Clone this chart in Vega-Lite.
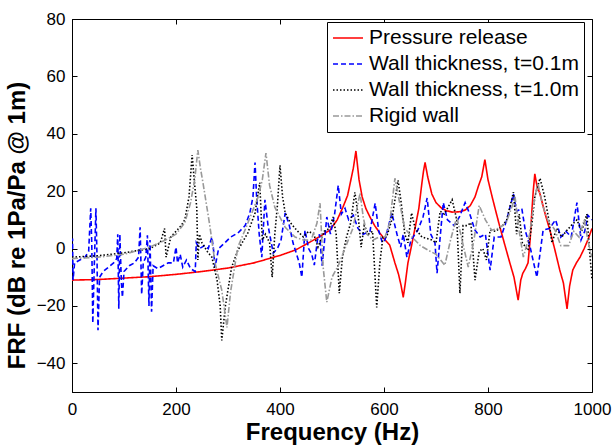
{
"$schema": "https://vega.github.io/schema/vega-lite/v6.json",
"width": 520, "height": 373,
"autosize": "none",
"padding": {"left": 72, "top": 19, "right": 24, "bottom": 56},
"background": "white",
"config": {
 "view": {"stroke": "black", "strokeWidth": 1},
 "axis": {"grid": false, "domainColor": "black", "tickColor": "black", "labelColor": "black", "titleColor": "black",
  "labelFont": "Liberation Sans", "labelFontSize": 17, "titleFont": "Liberation Sans", "titleFontSize": 24, "titleFontWeight": "bold",
  "tickSize": -5, "tickWidth": 1, "domainWidth": 1},
 "legend": {"labelFont": "Liberation Sans", "labelFontSize": 21, "labelColor": "black", "labelLimit": 0}
},
"data": {"values": [
{"series":"Pressure release","freq":0,"frf":-11},{"series":"Pressure release","freq":50,"frf":-10.8},{"series":"Pressure release","freq":100,"frf":-10.3},{"series":"Pressure release","freq":150,"frf":-9.8},{"series":"Pressure release","freq":200,"frf":-9},{"series":"Pressure release","freq":250,"frf":-8},{"series":"Pressure release","freq":300,"frf":-6.8},{"series":"Pressure release","freq":350,"frf":-5},{"series":"Pressure release","freq":400,"frf":-2.4},{"series":"Pressure release","freq":430,"frf":-0.5},{"series":"Pressure release","freq":450,"frf":1.5},{"series":"Pressure release","freq":470,"frf":3.5},{"series":"Pressure release","freq":496,"frf":6.4},{"series":"Pressure release","freq":510,"frf":10},{"series":"Pressure release","freq":521,"frf":14.4},{"series":"Pressure release","freq":530,"frf":18.5},{"series":"Pressure release","freq":535,"frf":22.8},{"series":"Pressure release","freq":541,"frf":28},{"series":"Pressure release","freq":546,"frf":34},{"series":"Pressure release","freq":552,"frf":24},{"series":"Pressure release","freq":558,"frf":18},{"series":"Pressure release","freq":565,"frf":14},{"series":"Pressure release","freq":573,"frf":11},{"series":"Pressure release","freq":582,"frf":8},{"series":"Pressure release","freq":592,"frf":5.4},{"series":"Pressure release","freq":602,"frf":3},{"series":"Pressure release","freq":611,"frf":1.2},{"series":"Pressure release","freq":621,"frf":-5},{"series":"Pressure release","freq":628,"frf":-9},{"series":"Pressure release","freq":633,"frf":-13},{"series":"Pressure release","freq":637,"frf":-17},{"series":"Pressure release","freq":641,"frf":-12},{"series":"Pressure release","freq":646,"frf":-5},{"series":"Pressure release","freq":653,"frf":1},{"series":"Pressure release","freq":660,"frf":7.4},{"series":"Pressure release","freq":667,"frf":14},{"series":"Pressure release","freq":673,"frf":23},{"series":"Pressure release","freq":676,"frf":27},{"series":"Pressure release","freq":679,"frf":30},{"series":"Pressure release","freq":684,"frf":25},{"series":"Pressure release","freq":692,"frf":19},{"series":"Pressure release","freq":700,"frf":16},{"series":"Pressure release","freq":711,"frf":14},{"series":"Pressure release","freq":720,"frf":13.2},{"series":"Pressure release","freq":731,"frf":12.7},{"series":"Pressure release","freq":745,"frf":12.8},{"series":"Pressure release","freq":756,"frf":13.4},{"series":"Pressure release","freq":766,"frf":15},{"series":"Pressure release","freq":775,"frf":18},{"series":"Pressure release","freq":782,"frf":22},{"series":"Pressure release","freq":788,"frf":25},{"series":"Pressure release","freq":794,"frf":31},{"series":"Pressure release","freq":800,"frf":24},{"series":"Pressure release","freq":808,"frf":18},{"series":"Pressure release","freq":815,"frf":13},{"series":"Pressure release","freq":823,"frf":7.4},{"series":"Pressure release","freq":832,"frf":1.5},{"series":"Pressure release","freq":842,"frf":-5},{"series":"Pressure release","freq":850,"frf":-10},{"series":"Pressure release","freq":858,"frf":-18},{"series":"Pressure release","freq":863,"frf":-11},{"series":"Pressure release","freq":867,"frf":-8.6},{"series":"Pressure release","freq":872,"frf":-7},{"series":"Pressure release","freq":877,"frf":-5},{"series":"Pressure release","freq":881,"frf":3},{"series":"Pressure release","freq":884,"frf":12},{"series":"Pressure release","freq":887,"frf":20},{"series":"Pressure release","freq":890,"frf":26},{"series":"Pressure release","freq":894,"frf":22},{"series":"Pressure release","freq":900,"frf":19},{"series":"Pressure release","freq":910,"frf":12},{"series":"Pressure release","freq":919,"frf":6.4},{"series":"Pressure release","freq":928,"frf":0},{"series":"Pressure release","freq":938,"frf":-7.5},{"series":"Pressure release","freq":945,"frf":-12},{"series":"Pressure release","freq":952,"frf":-21},{"series":"Pressure release","freq":957,"frf":-13},{"series":"Pressure release","freq":963,"frf":-7.5},{"series":"Pressure release","freq":970,"frf":-5},{"series":"Pressure release","freq":977,"frf":-3},{"series":"Pressure release","freq":985,"frf":0},{"series":"Pressure release","freq":992,"frf":3},{"series":"Pressure release","freq":1000,"frf":7},
{"series":"Wall thickness, t=0.1m","freq":0,"frf":-3},{"series":"Wall thickness, t=0.1m","freq":1,"frf":3.5},{"series":"Wall thickness, t=0.1m","freq":2,"frf":-11},{"series":"Wall thickness, t=0.1m","freq":5,"frf":-5},{"series":"Wall thickness, t=0.1m","freq":15,"frf":-4},{"series":"Wall thickness, t=0.1m","freq":25,"frf":-3},{"series":"Wall thickness, t=0.1m","freq":32,"frf":-1},{"series":"Wall thickness, t=0.1m","freq":36,"frf":14},{"series":"Wall thickness, t=0.1m","freq":38,"frf":2},{"series":"Wall thickness, t=0.1m","freq":40,"frf":-26},{"series":"Wall thickness, t=0.1m","freq":43,"frf":-5},{"series":"Wall thickness, t=0.1m","freq":46,"frf":14},{"series":"Wall thickness, t=0.1m","freq":48,"frf":-2},{"series":"Wall thickness, t=0.1m","freq":50,"frf":-28.5},{"series":"Wall thickness, t=0.1m","freq":53,"frf":-10},{"series":"Wall thickness, t=0.1m","freq":60,"frf":-8},{"series":"Wall thickness, t=0.1m","freq":70,"frf":-6.5},{"series":"Wall thickness, t=0.1m","freq":80,"frf":-5},{"series":"Wall thickness, t=0.1m","freq":86,"frf":-3.5},{"series":"Wall thickness, t=0.1m","freq":88,"frf":5},{"series":"Wall thickness, t=0.1m","freq":90,"frf":-21},{"series":"Wall thickness, t=0.1m","freq":92,"frf":5},{"series":"Wall thickness, t=0.1m","freq":95,"frf":-12},{"series":"Wall thickness, t=0.1m","freq":97,"frf":-17},{"series":"Wall thickness, t=0.1m","freq":100,"frf":-8},{"series":"Wall thickness, t=0.1m","freq":110,"frf":-6},{"series":"Wall thickness, t=0.1m","freq":120,"frf":-5},{"series":"Wall thickness, t=0.1m","freq":128,"frf":-3},{"series":"Wall thickness, t=0.1m","freq":131,"frf":7.4},{"series":"Wall thickness, t=0.1m","freq":134,"frf":-16},{"series":"Wall thickness, t=0.1m","freq":137,"frf":-5},{"series":"Wall thickness, t=0.1m","freq":142,"frf":-3},{"series":"Wall thickness, t=0.1m","freq":145,"frf":4.6},{"series":"Wall thickness, t=0.1m","freq":148,"frf":-20},{"series":"Wall thickness, t=0.1m","freq":150,"frf":3},{"series":"Wall thickness, t=0.1m","freq":153,"frf":-22},{"series":"Wall thickness, t=0.1m","freq":156,"frf":-6},{"series":"Wall thickness, t=0.1m","freq":165,"frf":-7},{"series":"Wall thickness, t=0.1m","freq":175,"frf":-6},{"series":"Wall thickness, t=0.1m","freq":185,"frf":-5},{"series":"Wall thickness, t=0.1m","freq":195,"frf":-5},{"series":"Wall thickness, t=0.1m","freq":200,"frf":0.5},{"series":"Wall thickness, t=0.1m","freq":203,"frf":-5},{"series":"Wall thickness, t=0.1m","freq":208,"frf":-2},{"series":"Wall thickness, t=0.1m","freq":213,"frf":-6.5},{"series":"Wall thickness, t=0.1m","freq":220,"frf":-4},{"series":"Wall thickness, t=0.1m","freq":228,"frf":-7},{"series":"Wall thickness, t=0.1m","freq":237,"frf":-8},{"series":"Wall thickness, t=0.1m","freq":239,"frf":2},{"series":"Wall thickness, t=0.1m","freq":245,"frf":0},{"series":"Wall thickness, t=0.1m","freq":255,"frf":1},{"series":"Wall thickness, t=0.1m","freq":262,"frf":0},{"series":"Wall thickness, t=0.1m","freq":269,"frf":4},{"series":"Wall thickness, t=0.1m","freq":272,"frf":0},{"series":"Wall thickness, t=0.1m","freq":275,"frf":-6.5},{"series":"Wall thickness, t=0.1m","freq":282,"frf":0},{"series":"Wall thickness, t=0.1m","freq":294,"frf":2},{"series":"Wall thickness, t=0.1m","freq":305,"frf":4},{"series":"Wall thickness, t=0.1m","freq":319,"frf":5.4},{"series":"Wall thickness, t=0.1m","freq":333,"frf":8},{"series":"Wall thickness, t=0.1m","freq":342,"frf":12.4},{"series":"Wall thickness, t=0.1m","freq":348,"frf":18},{"series":"Wall thickness, t=0.1m","freq":352,"frf":30},{"series":"Wall thickness, t=0.1m","freq":355,"frf":18},{"series":"Wall thickness, t=0.1m","freq":360,"frf":5},{"series":"Wall thickness, t=0.1m","freq":365,"frf":-3},{"series":"Wall thickness, t=0.1m","freq":371,"frf":17},{"series":"Wall thickness, t=0.1m","freq":377,"frf":8},{"series":"Wall thickness, t=0.1m","freq":387,"frf":-1.6},{"series":"Wall thickness, t=0.1m","freq":395,"frf":0},{"series":"Wall thickness, t=0.1m","freq":402,"frf":3},{"series":"Wall thickness, t=0.1m","freq":410,"frf":12.4},{"series":"Wall thickness, t=0.1m","freq":418,"frf":8},{"series":"Wall thickness, t=0.1m","freq":425,"frf":2},{"series":"Wall thickness, t=0.1m","freq":432,"frf":-2},{"series":"Wall thickness, t=0.1m","freq":437,"frf":-5},{"series":"Wall thickness, t=0.1m","freq":442,"frf":-10},{"series":"Wall thickness, t=0.1m","freq":448,"frf":6.4},{"series":"Wall thickness, t=0.1m","freq":455,"frf":0},{"series":"Wall thickness, t=0.1m","freq":461,"frf":-2},{"series":"Wall thickness, t=0.1m","freq":466,"frf":-5.8},{"series":"Wall thickness, t=0.1m","freq":472,"frf":3},{"series":"Wall thickness, t=0.1m","freq":476,"frf":5},{"series":"Wall thickness, t=0.1m","freq":481,"frf":-6},{"series":"Wall thickness, t=0.1m","freq":490,"frf":11},{"series":"Wall thickness, t=0.1m","freq":497,"frf":5},{"series":"Wall thickness, t=0.1m","freq":505,"frf":12},{"series":"Wall thickness, t=0.1m","freq":512,"frf":22},{"series":"Wall thickness, t=0.1m","freq":518,"frf":12},{"series":"Wall thickness, t=0.1m","freq":525,"frf":14},{"series":"Wall thickness, t=0.1m","freq":532,"frf":10},{"series":"Wall thickness, t=0.1m","freq":541,"frf":11.6},{"series":"Wall thickness, t=0.1m","freq":550,"frf":7},{"series":"Wall thickness, t=0.1m","freq":560,"frf":5},{"series":"Wall thickness, t=0.1m","freq":573,"frf":6},{"series":"Wall thickness, t=0.1m","freq":583,"frf":15.8},{"series":"Wall thickness, t=0.1m","freq":590,"frf":6},{"series":"Wall thickness, t=0.1m","freq":597,"frf":2},{"series":"Wall thickness, t=0.1m","freq":602,"frf":3},{"series":"Wall thickness, t=0.1m","freq":615,"frf":12.4},{"series":"Wall thickness, t=0.1m","freq":625,"frf":5},{"series":"Wall thickness, t=0.1m","freq":632,"frf":0.5},{"series":"Wall thickness, t=0.1m","freq":637,"frf":5},{"series":"Wall thickness, t=0.1m","freq":644,"frf":-3},{"series":"Wall thickness, t=0.1m","freq":652,"frf":3},{"series":"Wall thickness, t=0.1m","freq":665,"frf":6.4},{"series":"Wall thickness, t=0.1m","freq":675,"frf":11},{"series":"Wall thickness, t=0.1m","freq":683,"frf":17.6},{"series":"Wall thickness, t=0.1m","freq":690,"frf":5},{"series":"Wall thickness, t=0.1m","freq":698,"frf":2},{"series":"Wall thickness, t=0.1m","freq":702,"frf":-8.6},{"series":"Wall thickness, t=0.1m","freq":708,"frf":4},{"series":"Wall thickness, t=0.1m","freq":714,"frf":16},{"series":"Wall thickness, t=0.1m","freq":722,"frf":10},{"series":"Wall thickness, t=0.1m","freq":735,"frf":8},{"series":"Wall thickness, t=0.1m","freq":745,"frf":11},{"series":"Wall thickness, t=0.1m","freq":756,"frf":16},{"series":"Wall thickness, t=0.1m","freq":765,"frf":12},{"series":"Wall thickness, t=0.1m","freq":775,"frf":6.4},{"series":"Wall thickness, t=0.1m","freq":785,"frf":4},{"series":"Wall thickness, t=0.1m","freq":795,"frf":5},{"series":"Wall thickness, t=0.1m","freq":804,"frf":-7.5},{"series":"Wall thickness, t=0.1m","freq":812,"frf":4},{"series":"Wall thickness, t=0.1m","freq":825,"frf":4},{"series":"Wall thickness, t=0.1m","freq":836,"frf":10},{"series":"Wall thickness, t=0.1m","freq":849,"frf":19},{"series":"Wall thickness, t=0.1m","freq":855,"frf":13},{"series":"Wall thickness, t=0.1m","freq":865,"frf":14},{"series":"Wall thickness, t=0.1m","freq":872,"frf":6},{"series":"Wall thickness, t=0.1m","freq":881,"frf":0.5},{"series":"Wall thickness, t=0.1m","freq":894,"frf":-10},{"series":"Wall thickness, t=0.1m","freq":906,"frf":6.4},{"series":"Wall thickness, t=0.1m","freq":918,"frf":7},{"series":"Wall thickness, t=0.1m","freq":930,"frf":10},{"series":"Wall thickness, t=0.1m","freq":940,"frf":4},{"series":"Wall thickness, t=0.1m","freq":950,"frf":6},{"series":"Wall thickness, t=0.1m","freq":960,"frf":4},{"series":"Wall thickness, t=0.1m","freq":971,"frf":16},{"series":"Wall thickness, t=0.1m","freq":979,"frf":3},{"series":"Wall thickness, t=0.1m","freq":986,"frf":6},{"series":"Wall thickness, t=0.1m","freq":992,"frf":11.6},{"series":"Wall thickness, t=0.1m","freq":1000,"frf":10},
{"series":"Wall thickness, t=1.0m","freq":0,"frf":-3},{"series":"Wall thickness, t=1.0m","freq":50,"frf":-2.5},{"series":"Wall thickness, t=1.0m","freq":100,"frf":-1.5},{"series":"Wall thickness, t=1.0m","freq":150,"frf":0},{"series":"Wall thickness, t=1.0m","freq":170,"frf":2},{"series":"Wall thickness, t=1.0m","freq":178,"frf":7},{"series":"Wall thickness, t=1.0m","freq":181,"frf":-3},{"series":"Wall thickness, t=1.0m","freq":190,"frf":4},{"series":"Wall thickness, t=1.0m","freq":200,"frf":6},{"series":"Wall thickness, t=1.0m","freq":210,"frf":8},{"series":"Wall thickness, t=1.0m","freq":217,"frf":10},{"series":"Wall thickness, t=1.0m","freq":225,"frf":18},{"series":"Wall thickness, t=1.0m","freq":231,"frf":32.6},{"series":"Wall thickness, t=1.0m","freq":236,"frf":22},{"series":"Wall thickness, t=1.0m","freq":240,"frf":14},{"series":"Wall thickness, t=1.0m","freq":242,"frf":-4},{"series":"Wall thickness, t=1.0m","freq":245,"frf":5},{"series":"Wall thickness, t=1.0m","freq":250,"frf":2},{"series":"Wall thickness, t=1.0m","freq":260,"frf":-1},{"series":"Wall thickness, t=1.0m","freq":269,"frf":-3},{"series":"Wall thickness, t=1.0m","freq":279,"frf":-11},{"series":"Wall thickness, t=1.0m","freq":285,"frf":-20},{"series":"Wall thickness, t=1.0m","freq":288,"frf":-32},{"series":"Wall thickness, t=1.0m","freq":295,"frf":-20},{"series":"Wall thickness, t=1.0m","freq":307,"frf":-6.5},{"series":"Wall thickness, t=1.0m","freq":319,"frf":-0.6},{"series":"Wall thickness, t=1.0m","freq":338,"frf":5.4},{"series":"Wall thickness, t=1.0m","freq":352,"frf":12.4},{"series":"Wall thickness, t=1.0m","freq":361,"frf":23},{"series":"Wall thickness, t=1.0m","freq":366,"frf":3},{"series":"Wall thickness, t=1.0m","freq":372,"frf":5},{"series":"Wall thickness, t=1.0m","freq":380,"frf":2},{"series":"Wall thickness, t=1.0m","freq":385,"frf":-10},{"series":"Wall thickness, t=1.0m","freq":390,"frf":5},{"series":"Wall thickness, t=1.0m","freq":395,"frf":15},{"series":"Wall thickness, t=1.0m","freq":400,"frf":29},{"series":"Wall thickness, t=1.0m","freq":405,"frf":18},{"series":"Wall thickness, t=1.0m","freq":410,"frf":12.4},{"series":"Wall thickness, t=1.0m","freq":420,"frf":9},{"series":"Wall thickness, t=1.0m","freq":432,"frf":6.4},{"series":"Wall thickness, t=1.0m","freq":445,"frf":4},{"series":"Wall thickness, t=1.0m","freq":455,"frf":6},{"series":"Wall thickness, t=1.0m","freq":465,"frf":5},{"series":"Wall thickness, t=1.0m","freq":473,"frf":0.5},{"series":"Wall thickness, t=1.0m","freq":485,"frf":6},{"series":"Wall thickness, t=1.0m","freq":495,"frf":7},{"series":"Wall thickness, t=1.0m","freq":502,"frf":11},{"series":"Wall thickness, t=1.0m","freq":508,"frf":5},{"series":"Wall thickness, t=1.0m","freq":514,"frf":-15.6},{"series":"Wall thickness, t=1.0m","freq":520,"frf":-3},{"series":"Wall thickness, t=1.0m","freq":528,"frf":4},{"series":"Wall thickness, t=1.0m","freq":536,"frf":9},{"series":"Wall thickness, t=1.0m","freq":544,"frf":19.6},{"series":"Wall thickness, t=1.0m","freq":550,"frf":12},{"series":"Wall thickness, t=1.0m","freq":556,"frf":0.5},{"series":"Wall thickness, t=1.0m","freq":562,"frf":8},{"series":"Wall thickness, t=1.0m","freq":570,"frf":5},{"series":"Wall thickness, t=1.0m","freq":578,"frf":6},{"series":"Wall thickness, t=1.0m","freq":586,"frf":-20.5},{"series":"Wall thickness, t=1.0m","freq":592,"frf":-5},{"series":"Wall thickness, t=1.0m","freq":598,"frf":4},{"series":"Wall thickness, t=1.0m","freq":605,"frf":4},{"series":"Wall thickness, t=1.0m","freq":615,"frf":10},{"series":"Wall thickness, t=1.0m","freq":627,"frf":23.8},{"series":"Wall thickness, t=1.0m","freq":633,"frf":16},{"series":"Wall thickness, t=1.0m","freq":640,"frf":5},{"series":"Wall thickness, t=1.0m","freq":646,"frf":2},{"series":"Wall thickness, t=1.0m","freq":653,"frf":12.4},{"series":"Wall thickness, t=1.0m","freq":660,"frf":7},{"series":"Wall thickness, t=1.0m","freq":673,"frf":4},{"series":"Wall thickness, t=1.0m","freq":692,"frf":3},{"series":"Wall thickness, t=1.0m","freq":700,"frf":2},{"series":"Wall thickness, t=1.0m","freq":708,"frf":13},{"series":"Wall thickness, t=1.0m","freq":716,"frf":12},{"series":"Wall thickness, t=1.0m","freq":731,"frf":17},{"series":"Wall thickness, t=1.0m","freq":740,"frf":10},{"series":"Wall thickness, t=1.0m","freq":746,"frf":-15.6},{"series":"Wall thickness, t=1.0m","freq":752,"frf":8},{"series":"Wall thickness, t=1.0m","freq":760,"frf":8},{"series":"Wall thickness, t=1.0m","freq":767,"frf":9},{"series":"Wall thickness, t=1.0m","freq":775,"frf":-11},{"series":"Wall thickness, t=1.0m","freq":783,"frf":-1},{"series":"Wall thickness, t=1.0m","freq":790,"frf":0},{"series":"Wall thickness, t=1.0m","freq":797,"frf":-4},{"series":"Wall thickness, t=1.0m","freq":804,"frf":6.4},{"series":"Wall thickness, t=1.0m","freq":815,"frf":6},{"series":"Wall thickness, t=1.0m","freq":828,"frf":8},{"series":"Wall thickness, t=1.0m","freq":836,"frf":10},{"series":"Wall thickness, t=1.0m","freq":849,"frf":19.6},{"series":"Wall thickness, t=1.0m","freq":855,"frf":5},{"series":"Wall thickness, t=1.0m","freq":860,"frf":12},{"series":"Wall thickness, t=1.0m","freq":866,"frf":2},{"series":"Wall thickness, t=1.0m","freq":877,"frf":-0.6},{"series":"Wall thickness, t=1.0m","freq":884,"frf":8},{"series":"Wall thickness, t=1.0m","freq":890,"frf":18},{"series":"Wall thickness, t=1.0m","freq":900,"frf":24.5},{"series":"Wall thickness, t=1.0m","freq":909,"frf":18},{"series":"Wall thickness, t=1.0m","freq":916,"frf":11},{"series":"Wall thickness, t=1.0m","freq":923,"frf":2},{"series":"Wall thickness, t=1.0m","freq":932,"frf":7},{"series":"Wall thickness, t=1.0m","freq":942,"frf":4},{"series":"Wall thickness, t=1.0m","freq":950,"frf":6},{"series":"Wall thickness, t=1.0m","freq":960,"frf":8},{"series":"Wall thickness, t=1.0m","freq":971,"frf":10},{"series":"Wall thickness, t=1.0m","freq":980,"frf":6},{"series":"Wall thickness, t=1.0m","freq":990,"frf":12},{"series":"Wall thickness, t=1.0m","freq":995,"frf":0},{"series":"Wall thickness, t=1.0m","freq":1000,"frf":-11},
{"series":"Rigid wall","freq":0,"frf":-3.5},{"series":"Rigid wall","freq":50,"frf":-3},{"series":"Rigid wall","freq":100,"frf":-2},{"series":"Rigid wall","freq":150,"frf":0.5},{"series":"Rigid wall","freq":180,"frf":3},{"series":"Rigid wall","freq":200,"frf":5},{"series":"Rigid wall","freq":217,"frf":9},{"series":"Rigid wall","freq":228,"frf":16},{"series":"Rigid wall","freq":236,"frf":24},{"series":"Rigid wall","freq":242,"frf":34.3},{"series":"Rigid wall","freq":247,"frf":28},{"series":"Rigid wall","freq":252,"frf":22.8},{"series":"Rigid wall","freq":265,"frf":8},{"series":"Rigid wall","freq":275,"frf":-5},{"series":"Rigid wall","freq":288,"frf":-14.5},{"series":"Rigid wall","freq":298,"frf":-27.5},{"series":"Rigid wall","freq":305,"frf":-15},{"series":"Rigid wall","freq":319,"frf":0.5},{"series":"Rigid wall","freq":338,"frf":8.8},{"series":"Rigid wall","freq":358,"frf":18},{"series":"Rigid wall","freq":366,"frf":24},{"series":"Rigid wall","freq":373,"frf":33.3},{"series":"Rigid wall","freq":380,"frf":22},{"series":"Rigid wall","freq":390,"frf":14.4},{"series":"Rigid wall","freq":410,"frf":7.4},{"series":"Rigid wall","freq":429,"frf":4},{"series":"Rigid wall","freq":445,"frf":3},{"series":"Rigid wall","freq":460,"frf":3},{"series":"Rigid wall","freq":471,"frf":8.8},{"series":"Rigid wall","freq":477,"frf":15.8},{"series":"Rigid wall","freq":483,"frf":-6.5},{"series":"Rigid wall","freq":490,"frf":-18.7},{"series":"Rigid wall","freq":500,"frf":-10},{"series":"Rigid wall","freq":512,"frf":-6},{"series":"Rigid wall","freq":525,"frf":0},{"series":"Rigid wall","freq":540,"frf":7},{"series":"Rigid wall","freq":554,"frf":19.3},{"series":"Rigid wall","freq":560,"frf":11},{"series":"Rigid wall","freq":567,"frf":5},{"series":"Rigid wall","freq":579,"frf":3},{"series":"Rigid wall","freq":590,"frf":4},{"series":"Rigid wall","freq":602,"frf":4},{"series":"Rigid wall","freq":611,"frf":9},{"series":"Rigid wall","freq":621,"frf":24.5},{"series":"Rigid wall","freq":630,"frf":16},{"series":"Rigid wall","freq":640,"frf":7},{"series":"Rigid wall","freq":654,"frf":4},{"series":"Rigid wall","freq":670,"frf":1},{"series":"Rigid wall","freq":685,"frf":-0.6},{"series":"Rigid wall","freq":700,"frf":-2},{"series":"Rigid wall","freq":717,"frf":-5.8},{"series":"Rigid wall","freq":728,"frf":3},{"series":"Rigid wall","freq":740,"frf":11},{"series":"Rigid wall","freq":750,"frf":3},{"series":"Rigid wall","freq":762,"frf":-6.5},{"series":"Rigid wall","freq":773,"frf":3},{"series":"Rigid wall","freq":783,"frf":15},{"series":"Rigid wall","freq":795,"frf":10},{"series":"Rigid wall","freq":807,"frf":6.4},{"series":"Rigid wall","freq":820,"frf":7},{"series":"Rigid wall","freq":835,"frf":9},{"series":"Rigid wall","freq":845,"frf":14},{"series":"Rigid wall","freq":852,"frf":18},{"series":"Rigid wall","freq":860,"frf":6},{"series":"Rigid wall","freq":868,"frf":-3},{"series":"Rigid wall","freq":880,"frf":5},{"series":"Rigid wall","freq":890,"frf":18},{"series":"Rigid wall","freq":896,"frf":22.8},{"series":"Rigid wall","freq":905,"frf":15},{"series":"Rigid wall","freq":915,"frf":10},{"series":"Rigid wall","freq":929,"frf":6.4},{"series":"Rigid wall","freq":940,"frf":1},{"series":"Rigid wall","freq":955,"frf":1},{"series":"Rigid wall","freq":965,"frf":6},{"series":"Rigid wall","freq":975,"frf":4},{"series":"Rigid wall","freq":985,"frf":10},{"series":"Rigid wall","freq":993,"frf":2},{"series":"Rigid wall","freq":1000,"frf":-3}
]},
"layer": [
 {
  "mark": {"type": "line", "strokeWidth": 1.6, "clip": true},
  "encoding": {
   "x": {"field": "freq", "type": "quantitative", "scale": {"domain": [0, 1000], "nice": false, "zero": false},
    "axis": {"orient": "bottom", "title": "Frequency (Hz)", "values": [0, 200, 400, 600, 800, 1000], "format": "d", "labelPadding": 14, "titlePadding": 3, "labelFlush": false}},
   "y": {"field": "frf", "type": "quantitative", "scale": {"domain": [-50, 80], "nice": false, "zero": false},
    "axis": {"orient": "left", "title": "FRF (dB re 1Pa/Pa @ 1m)", "values": [-40, -20, 0, 20, 40, 60, 80], "format": "d", "labelPadding": 12, "titlePadding": 7, "titleY": 206, "labelFlush": false}},
   "color": {"field": "series", "type": "nominal",
    "scale": {"domain": ["Pressure release", "Wall thickness, t=0.1m", "Wall thickness, t=1.0m", "Rigid wall"], "range": ["#ff0000", "#0000ff", "#000000", "#999999"]},
    "legend": {"orient": "none", "legendX": 255, "legendY": 3, "title": null, "strokeColor": "black", "fillColor": "white", "padding": 5,
     "symbolType": "stroke", "symbolSize": 900, "symbolStrokeWidth": 1.6, "clipHeight": 22, "rowPadding": 4, "labelOffset": 5, "cornerRadius": 0, "labelLimit": 0}},
   "strokeDash": {"field": "series", "type": "nominal",
    "scale": {"domain": ["Pressure release", "Wall thickness, t=0.1m", "Wall thickness, t=1.0m", "Rigid wall"], "range": [[1, 0], [5, 3], [1.5, 2], [6, 2, 1.5, 2]]},
    "legend": {"orient": "none", "legendX": 255, "legendY": 3, "title": null, "strokeColor": "black", "fillColor": "white", "padding": 5,
     "symbolType": "stroke", "symbolSize": 900, "symbolStrokeWidth": 1.6, "clipHeight": 22, "rowPadding": 4, "labelOffset": 5, "cornerRadius": 0, "labelLimit": 0}}
  }
 },
 {
  "mark": {"type": "line", "opacity": 0},
  "encoding": {
   "x": {"field": "freq", "type": "quantitative", "axis": {"orient": "top", "title": null, "labels": false, "domain": false, "values": [0, 200, 400, 600, 800, 1000]}},
   "y": {"field": "frf", "type": "quantitative", "axis": {"orient": "right", "title": null, "labels": false, "domain": false, "values": [-40, -20, 0, 20, 40, 60, 80]}},
   "detail": {"field": "series", "type": "nominal"}
  }
 }
],
"resolve": {"axis": {"x": "independent", "y": "independent"}}
}
